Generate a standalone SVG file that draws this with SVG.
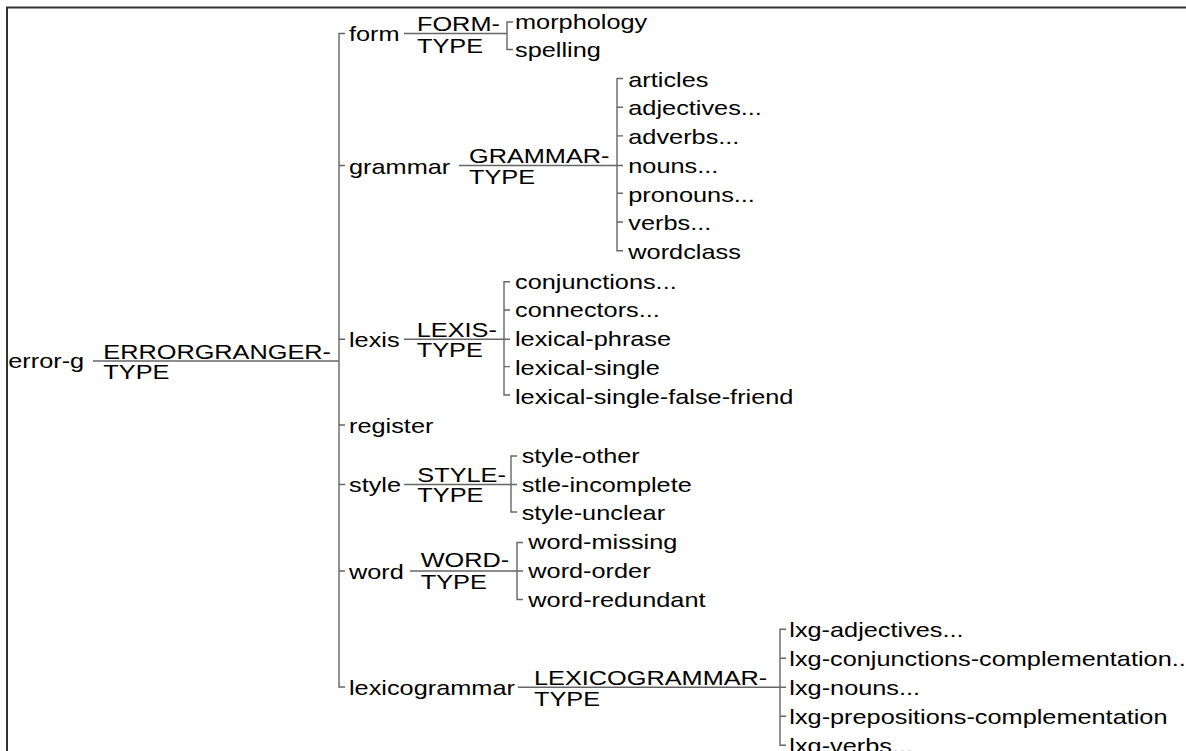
<svg xmlns="http://www.w3.org/2000/svg" width="1186" height="751" viewBox="0 0 1186 751">
<defs>
<style>
.t{font-family:"Liberation Sans",Arial,Helvetica,sans-serif;font-size:21px;fill:#000}
.c{stroke:#666;stroke-width:1.4;fill:none}
.f{stroke:#333;stroke-width:2;fill:none}
</style>
</defs>
<rect width="1186" height="751" fill="#fff"/>
<path class="f" d="M7,751 V7.5 H1186"/>
<g id="connectors">
  <!-- root -->
  <path class="c" d="M93,361 H339"/>
  <path class="c" d="M345,33.5 H339 V687 H345 M339,165.5 H345 M339,339.3 H345 M339,425 H345 M339,484.5 H345 M339,571 H345"/>
  <!-- form -->
  <path class="c" d="M404,33.5 H507"/>
  <path class="c" d="M513,22 H507 V49.5 H513"/>
  <!-- grammar -->
  <path class="c" d="M459,165.5 H617"/>
  <path class="c" d="M623,78.5 H617 V250.7 H623 M617,107.2 H623 M617,135.9 H623 M617,165.5 H623 M617,193.3 H623 M617,222 H623"/>
  <!-- lexis -->
  <path class="c" d="M404,339.3 H504"/>
  <path class="c" d="M510,281.7 H504 V395 H510 M504,310 H510 M504,339.3 H510 M504,366.6 H510"/>
  <!-- style -->
  <path class="c" d="M404,484.5 H511"/>
  <path class="c" d="M517,456 H511 V512 H517 M511,484.5 H517"/>
  <!-- word -->
  <path class="c" d="M410,571 H517"/>
  <path class="c" d="M523,542.5 H517 V599.5 H523 M517,571 H523"/>
  <!-- lexicogrammar -->
  <path class="c" d="M518,687.3 H780"/>
  <path class="c" d="M786,629.3 H780 V745.3 H786 M780,658.3 H786 M780,687.3 H786 M780,716.3 H786"/>
</g>
<g id="node-error-g">
  <text class="t" x="8.3" y="368" textLength="75.9" lengthAdjust="spacingAndGlyphs">error-g</text>
  <text class="t" x="103.3" y="358.5" textLength="227.7" lengthAdjust="spacingAndGlyphs">ERRORGRANGER-</text>
  <text class="t" x="103.3" y="379" textLength="66.1" lengthAdjust="spacingAndGlyphs">TYPE</text>
</g>
<g id="node-form">
  <text class="t" x="349" y="41" textLength="50.6" lengthAdjust="spacingAndGlyphs">form</text>
  <text class="t" x="417" y="31" textLength="82.9" lengthAdjust="spacingAndGlyphs">FORM-</text>
  <text class="t" x="417" y="52.5" textLength="66.1" lengthAdjust="spacingAndGlyphs">TYPE</text>
</g>
<g id="node-morphology"><text class="t" x="515" y="29" textLength="132.2" lengthAdjust="spacingAndGlyphs">morphology</text></g>
<g id="node-spelling"><text class="t" x="515" y="57" textLength="85.8" lengthAdjust="spacingAndGlyphs">spelling</text></g>
<g id="node-grammar">
  <text class="t" x="349" y="173.5" textLength="101.2" lengthAdjust="spacingAndGlyphs">grammar</text>
  <text class="t" x="469" y="163" textLength="140.5" lengthAdjust="spacingAndGlyphs">GRAMMAR-</text>
  <text class="t" x="469" y="184" textLength="66.1" lengthAdjust="spacingAndGlyphs">TYPE</text>
</g>
<g id="node-articles"><text class="t" x="628.3" y="86.5" textLength="80.1" lengthAdjust="spacingAndGlyphs">articles</text></g>
<g id="node-adjectives"><text class="t" x="628.3" y="115" textLength="133.6" lengthAdjust="spacingAndGlyphs">adjectives...</text></g>
<g id="node-adverbs"><text class="t" x="628.3" y="143.5" textLength="111.1" lengthAdjust="spacingAndGlyphs">adverbs...</text></g>
<g id="node-nouns"><text class="t" x="628.3" y="173" textLength="90" lengthAdjust="spacingAndGlyphs">nouns...</text></g>
<g id="node-pronouns"><text class="t" x="628.3" y="201.5" textLength="126.6" lengthAdjust="spacingAndGlyphs">pronouns...</text></g>
<g id="node-verbs"><text class="t" x="628.3" y="230.3" textLength="83" lengthAdjust="spacingAndGlyphs">verbs...</text></g>
<g id="node-wordclass"><text class="t" x="628.3" y="259" textLength="112.5" lengthAdjust="spacingAndGlyphs">wordclass</text></g>
<g id="node-lexis">
  <text class="t" x="349" y="347" textLength="50.6" lengthAdjust="spacingAndGlyphs">lexis</text>
  <text class="t" x="416.7" y="337" textLength="80.2" lengthAdjust="spacingAndGlyphs">LEXIS-</text>
  <text class="t" x="416.7" y="357" textLength="66.1" lengthAdjust="spacingAndGlyphs">TYPE</text>
</g>
<g id="node-conjunctions"><text class="t" x="515" y="288.5" textLength="161.7" lengthAdjust="spacingAndGlyphs">conjunctions...</text></g>
<g id="node-connectors"><text class="t" x="515" y="317" textLength="144.8" lengthAdjust="spacingAndGlyphs">connectors...</text></g>
<g id="node-lexical-phrase"><text class="t" x="515" y="346" textLength="156.1" lengthAdjust="spacingAndGlyphs">lexical-phrase</text></g>
<g id="node-lexical-single"><text class="t" x="515" y="374.5" textLength="144.8" lengthAdjust="spacingAndGlyphs">lexical-single</text></g>
<g id="node-lexical-single-false-friend"><text class="t" x="515" y="403.5" textLength="278.4" lengthAdjust="spacingAndGlyphs">lexical-single-false-friend</text></g>
<g id="node-register"><text class="t" x="349" y="433" textLength="84.4" lengthAdjust="spacingAndGlyphs">register</text></g>
<g id="node-style">
  <text class="t" x="349" y="492" textLength="52" lengthAdjust="spacingAndGlyphs">style</text>
  <text class="t" x="417.3" y="481.5" textLength="88.6" lengthAdjust="spacingAndGlyphs">STYLE-</text>
  <text class="t" x="417.3" y="502" textLength="66.1" lengthAdjust="spacingAndGlyphs">TYPE</text>
</g>
<g id="node-style-other"><text class="t" x="521.7" y="463" textLength="118.1" lengthAdjust="spacingAndGlyphs">style-other</text></g>
<g id="node-stle-incomplete"><text class="t" x="521.7" y="492" textLength="170.1" lengthAdjust="spacingAndGlyphs">stle-incomplete</text></g>
<g id="node-style-unclear"><text class="t" x="521.7" y="520" textLength="143.4" lengthAdjust="spacingAndGlyphs">style-unclear</text></g>
<g id="node-word">
  <text class="t" x="349" y="578.5" textLength="54.8" lengthAdjust="spacingAndGlyphs">word</text>
  <text class="t" x="420.7" y="567" textLength="88.5" lengthAdjust="spacingAndGlyphs">WORD-</text>
  <text class="t" x="420.7" y="588.5" textLength="66.1" lengthAdjust="spacingAndGlyphs">TYPE</text>
</g>
<g id="node-word-missing"><text class="t" x="528.3" y="549" textLength="149" lengthAdjust="spacingAndGlyphs">word-missing</text></g>
<g id="node-word-order"><text class="t" x="528.3" y="577.5" textLength="122.3" lengthAdjust="spacingAndGlyphs">word-order</text></g>
<g id="node-word-redundant"><text class="t" x="528.3" y="606.5" textLength="177.2" lengthAdjust="spacingAndGlyphs">word-redundant</text></g>
<g id="node-lexicogrammar">
  <text class="t" x="349" y="695" textLength="165.9" lengthAdjust="spacingAndGlyphs">lexicogrammar</text>
  <text class="t" x="534" y="684.5" textLength="233.3" lengthAdjust="spacingAndGlyphs">LEXICOGRAMMAR-</text>
  <text class="t" x="534" y="705.5" textLength="66.1" lengthAdjust="spacingAndGlyphs">TYPE</text>
</g>
<g id="node-lxg-adjectives"><text class="t" x="789.3" y="636.7" textLength="174.3" lengthAdjust="spacingAndGlyphs">lxg-adjectives...</text></g>
<g id="node-lxg-conjunctions"><text class="t" x="789.3" y="665.5" textLength="403.5" lengthAdjust="spacingAndGlyphs">lxg-conjunctions-complementation...</text></g>
<g id="node-lxg-nouns"><text class="t" x="789.3" y="694.5" textLength="130.8" lengthAdjust="spacingAndGlyphs">lxg-nouns...</text></g>
<g id="node-lxg-prepositions"><text class="t" x="789.3" y="723.5" textLength="378.2" lengthAdjust="spacingAndGlyphs">lxg-prepositions-complementation</text></g>
<g id="node-lxg-verbs"><text class="t" x="789.3" y="752.5" textLength="123.7" lengthAdjust="spacingAndGlyphs">lxg-verbs...</text></g>
</svg>
